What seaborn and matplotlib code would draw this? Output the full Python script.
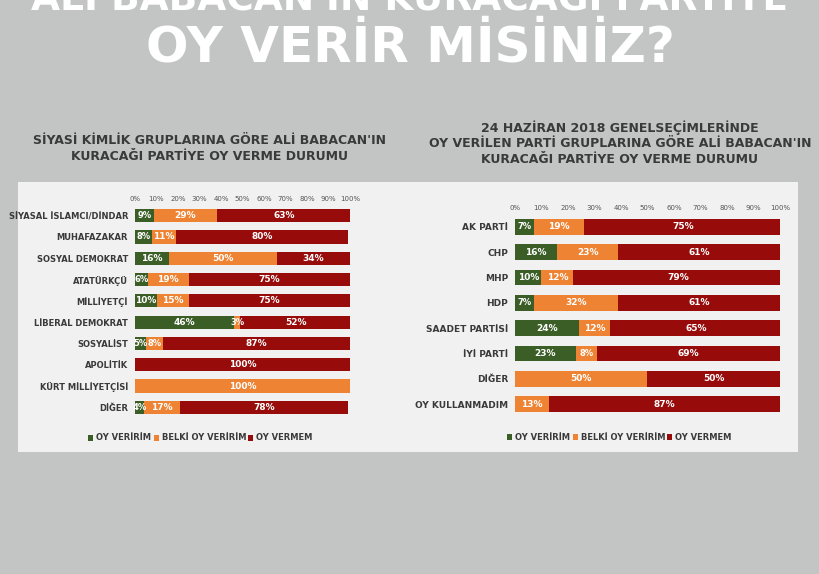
import matplotlib
matplotlib.use("Agg")
import matplotlib.pyplot as plt
import seaborn as sns
import pandas as pd
import numpy as np
from matplotlib.patches import Rectangle

left_cats = ["SİYASAL İSLAMCI/DİNDAR", "MUHAFAZAKAR", "SOSYAL DEMOKRAT", "ATATÜRKÇÜ", "MİLLİYETÇİ",
             "LİBERAL DEMOKRAT", "SOSYALİST", "APOLİTİK", "KÜRT MİLLİYETÇİSİ", "DİĞER"]
left_ver = [9, 8, 16, 6, 10, 46, 5, 0, 0, 4]
left_belki = [29, 11, 50, 19, 15, 3, 8, 0, 100, 17]
left_vermem = [63, 80, 34, 75, 75, 52, 87, 100, 0, 78]

right_cats = ["AK PARTİ", "CHP", "MHP", "HDP", "SAADET PARTİSİ", "İYİ PARTİ", "DİĞER", "OY KULLANMADIM"]
right_ver = [7, 16, 10, 7, 24, 23, 0, 0]
right_belki = [19, 23, 12, 32, 12, 8, 50, 13]
right_vermem = [75, 61, 79, 61, 65, 69, 50, 87]

series = ["OY VERİRİM", "BELKİ OY VERİRİM", "OY VERMEM"]
colors = ["#3b5e27", "#ee8433", "#980b0b"]
ticks = [0, 10, 20, 30, 40, 50, 60, 70, 80, 90, 100]

BG = "#c3c4c4"
fig = plt.figure(figsize=(8.2, 5.74), dpi=100, facecolor=BG)

fig.text(0.5, 1.0, "ALİ BABACAN'IN KURACAĞI PARTİYE", ha="center", va="center",
         fontsize=27, fontweight="bold", color="white")
fig.text(0.5, 0.918, "OY VERİR MİSİNİZ?", ha="center", va="center",
         fontsize=36, fontweight="bold", color="white")

fig.patches.append(Rectangle((18/820, 1-452/574), 780/820, 270/574, transform=fig.transFigure,
                             facecolor="#f1f1f1", edgecolor="none", zorder=-10))

fig.text(210/820, 1-140/574, "SİYASİ KİMLİK GRUPLARINA GÖRE ALİ BABACAN'IN", ha="center", va="center",
         fontsize=9, fontweight="bold", color="#3a3a3a")
fig.text(210/820, 1-156/574, "KURACAĞI PARTİYE OY VERME DURUMU", ha="center", va="center",
         fontsize=9, fontweight="bold", color="#3a3a3a")
for i, t in enumerate(["24 HAZİRAN 2018 GENELSEÇİMLERİNDE",
                       "OY VERİLEN PARTİ GRUPLARINA GÖRE ALİ BABACAN'IN",
                       "KURACAĞI PARTİYE OY VERME DURUMU"]):
    fig.text(620/820, 1-(128+16*i)/574, t, ha="center", va="center",
             fontsize=9, fontweight="bold", color="#3a3a3a")


def draw(rect, cats, a, b, c, legend_y, legend_x, ylab_size):
    ax = fig.add_axes(rect)
    ax.set_facecolor("none")
    df = pd.DataFrame({"cat": cats, "a": a, "b": b, "c": c})
    cum = [df["a"] + df["b"] + df["c"], df["a"] + df["b"], df["a"]]
    for k in range(3):
        sns.barplot(x=cum[k].values, y=df["cat"], ax=ax, color=colors[2-k], orient="h",
                    width=0.62, saturation=1, zorder=2)
    vals = [a, b, c]
    for i in range(len(cats)):
        start = 0
        for k in range(3):
            v = vals[k][i]
            if v > 0:
                ax.text(start + v/2, i, f"{v}%", ha="center", va="center", color="white",
                        fontsize=6.5 if v >= 10 else 6, fontweight="bold", zorder=3)
            start += v
    ax.set_xlim(0, 100)
    ax.set_xticks(ticks)
    ax.set_xticklabels([f"{t}%" for t in ticks])
    ax.xaxis.tick_top()
    ax.tick_params(axis="x", length=0, labelsize=5, colors="#555555", pad=2)
    ax.tick_params(axis="y", length=0, labelsize=ylab_size, colors="#3a3a3a", pad=5)
    for lbl in ax.get_yticklabels():
        lbl.set_fontweight("bold")
    ax.set_xlabel("")
    ax.set_ylabel("")
    for s in ax.spines.values():
        s.set_visible(False)
    x = legend_x
    for k, name in enumerate(series):
        fig.patches.append(Rectangle((x/820, 1-(legend_y+3)/574), 5/820, 6/574,
                                     transform=fig.transFigure, facecolor=colors[k]))
        fig.text((x+8)/820, 1-legend_y/574, name, ha="left", va="center", fontsize=6,
                 fontweight="bold", color="#3a3a3a")
        x += [66, 94, 0][k]


draw([135/820, 1-418/574, 215/820, 213/574], left_cats, left_ver, left_belki, left_vermem, 438, 88, 6)
draw([515/820, 1-417/574, 265/820, 203/574], right_cats, right_ver, right_belki, right_vermem, 437, 507, 6.5)

fig.savefig("out.png", dpi=100, facecolor=BG)
